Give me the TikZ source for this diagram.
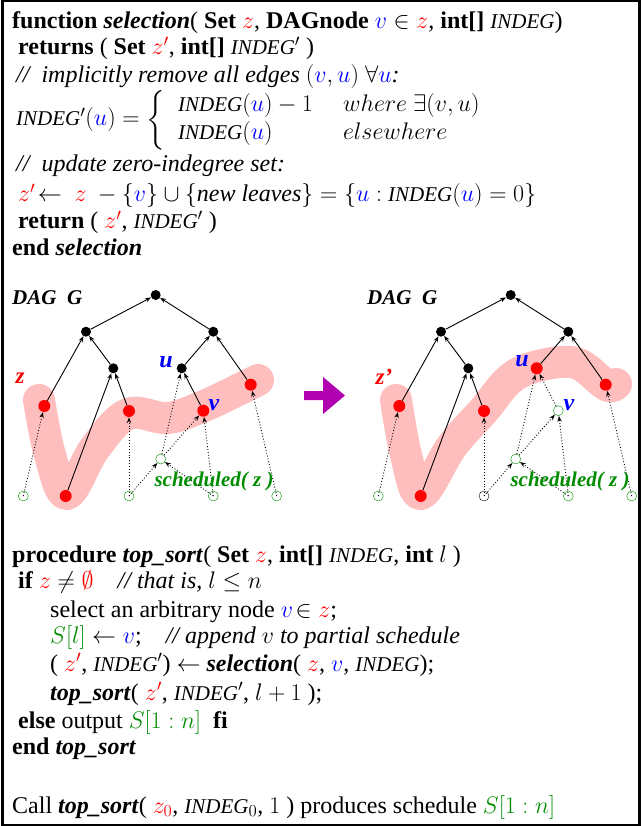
\RequirePackage{fix-cm}
\documentclass[tikz,border=0pt]{standalone}
\usepackage[no-math]{fontspec}
\setmainfont{Liberation Serif}
\usepackage{amsmath}
\usepackage{xcolor}
\usetikzlibrary{arrows.meta}
\definecolor{zred}{RGB}{255,0,0}
\definecolor{vblue}{RGB}{0,0,255}
\definecolor{sgreen}{RGB}{0,140,0}
\definecolor{bandpink}{RGB}{255,190,190}
\definecolor{movepurple}{RGB}{176,0,176}
\newcommand{\rz}[1]{\textcolor{zred}{#1}}
\newcommand{\bv}[1]{\textcolor{vblue}{#1}}
\newcommand{\gs}[1]{\textcolor{sgreen}{#1}}
\newcommand{\Indeg}{\mbox{\fontsize{21}{24}\selectfont\itshape INDEG}}
\newcommand{\kw}[1]{\textbf{#1}}
\newcommand{\fn}[1]{\textbf{\textit{#1}}}
\tikzset{
  codeline/.style = {anchor=base west, inner sep=0pt, font=\fontsize{24}{28}\selectfont},
  daglabel/.style = {inner sep=0pt, font=\fontsize{21}{24}\selectfont\bfseries\itshape},
  dagnode/.style  = {circle, fill=black, inner sep=0pt, minimum size=10pt},
  znode/.style    = {circle, fill=zred, inner sep=0pt, minimum size=12pt},
  leafnode/.style = {circle, draw=sgreen, fill=white, inner sep=0pt, minimum size=10pt},
  doneleaf/.style = {circle, draw=black, fill=white, inner sep=0pt, minimum size=10pt},
  dagarrow/.style = {-{Stealth[open, length=6pt, width=4.5pt]}, line width=0.9pt},
  dotarrow/.style = {dagarrow, dotted},
  zband/.style    = {bandpink, line width=32pt, line cap=round, line join=round},
}
\begin{document}
\begin{tikzpicture}[x=1pt, y=-1pt]
  \useasboundingbox (0,0) rectangle (641,826);
  \draw[line width=2.4pt] (2.5,1.2) rectangle (639.5,824.8);

  %% function selection
  \node[codeline] (sel1) at (12,29) {\kw{function} \fn{selection}( \kw{Set} $\rz{z}$, \kw{DAGnode} $\bv{v}\in\rz{z}$, \kw{int[]} \Indeg)};
  \node[codeline] (sel2) at (18,55) {\kw{returns} ( \kw{Set} $\rz{z'}$, \kw{int[]} \Indeg$'$ )};
  \node[codeline] (sel3) at (16,83) {\textit{//\ \ implicitly remove all edges} $(\bv{v},\bv{u})\ \forall\bv{u}$\textit{:}};
  \node[codeline] (sel4) at (16,126) {\Indeg$'(\bv{u}) = \left\{\begin{array}{@{\hspace{13pt}}l@{}l}
      \makebox[165pt][l]{$\Indeg(\bv{u})-1$} & where\ \exists(v,u)\\
      \makebox[165pt][l]{$\Indeg(\bv{u})$} & elsewhere
    \end{array}\right.$};
  \node[codeline] (sel5) at (16,172) {\textit{//\ \ update zero-indegree set:}};
  \node[codeline] (sel6) at (18,202) {$\rz{z'}\!\leftarrow\ \rz{z}\ -\{\bv{v}\}\cup\{$\textit{new leaves}$\}=\{\bv{u}:\ $\Indeg$(\bv{u})=0\}$};
  \node[codeline] (sel7) at (18,229) {\kw{return} ( $\rz{z'}$, \Indeg$'$ )};
  \node[codeline] (sel8) at (12,255) {\kw{end} \fn{selection}};

  %% zero-indegree sets
  \draw[zband] plot[smooth, tension=0.6] coordinates {(39,400) (50,455) (67,494) (95,448) (128,414) (168,418) (204,406) (240,389) (258,380)};
  \draw[zband] plot[smooth, tension=0.6] coordinates {(396,400) (406,455) (421,494) (452,446) (484,410) (510,379) (538,366) (576,363) (606,385) (616,384)};

  %% DAG before selection
  \node[daglabel, anchor=base west] (dagL) at (12,304) {DAG\ \ G};
  \node[dagnode]  (Lroot) at (155.7,295)   {};
  \node[dagnode]  (La1)   at (86,331.7)    {};
  \node[dagnode]  (Lb1)   at (213.3,331.7) {};
  \node[dagnode]  (La2)   at (113.3,368.3) {};
  \node[dagnode]  (Lu)    at (181.7,368.3) {};
  \node[znode]    (Lza)   at (44.3,406)    {};
  \node[znode]    (Lzb)   at (129,411)     {};
  \node[znode]    (Lv)    at (203.3,410.7) {};
  \node[znode]    (Lzc)   at (250.7,384.7) {};
  \node[znode]    (Lzd)   at (65.7,496)    {};
  \node[leafnode] (Lga)   at (23.3,496)    {};
  \node[leafnode] (Lgb)   at (129,496)     {};
  \node[leafnode] (Lgc)   at (213.3,496)   {};
  \node[leafnode] (Lgd)   at (276.7,496)   {};
  \node[leafnode] (Lgm)   at (160.7,459)   {};

  \draw[dagarrow] (La1) -- (Lroot);
  \draw[dagarrow] (Lb1) -- (Lroot);
  \draw[dagarrow] (Lza) -- (La1);
  \draw[dagarrow] (La2) -- (La1);
  \draw[dagarrow] (Lzd) -- (La2);
  \draw[dagarrow] (Lzb) -- (La2);
  \draw[dagarrow] (Lu)  -- (Lb1);
  \draw[dagarrow] (Lzc) -- (Lb1);
  \draw[dagarrow] (Lv)  -- (Lu);
  \draw[dotarrow] (Lga.center) -- (Lza);
  \draw[dotarrow] (Lgb.center) -- (Lzb);
  \draw[dotarrow] (Lgb.center) -- (Lgm);
  \draw[dotarrow] (Lgm) -- (Lu);
  \draw[dotarrow] (Lgm) -- (Lv);
  \draw[dotarrow] (Lgc.center) -- (Lv);
  \draw[dotarrow] (Lgc.center) -- (Lgm);
  \draw[dotarrow] (Lgd.center) -- (Lzc);

  \node[daglabel, text=zred, font=\fontsize{23}{24}\selectfont\bfseries\itshape] (zL) at (20,378) {z};
  \node[daglabel, text=vblue, font=\fontsize{24}{24}\selectfont\bfseries\itshape] (uL) at (166,362) {u};
  \node[daglabel, text=vblue, font=\fontsize{24}{24}\selectfont\bfseries\itshape] (vL) at (214,405) {v};
  \node[daglabel, text=sgreen] (schedL) at (214,481) {scheduled( z )};

  %% selection step
  \fill[movepurple] (304,391) -- (323,391) -- (323,377) -- (345,395.5) -- (323,414) -- (323,400) -- (304,400) -- cycle;

  %% DAG after selection
  \node[daglabel, anchor=base west] (dagR) at (367,304) {DAG\ \ G};
  \node[dagnode]  (Rroot) at (510.7,295)   {};
  \node[dagnode]  (Ra1)   at (441,331.7)   {};
  \node[dagnode]  (Rb1)   at (568.3,331.7) {};
  \node[dagnode]  (Ra2)   at (468.3,368.3) {};
  \node[znode]    (Ru)    at (536.7,368.3) {};
  \node[znode]    (Rza)   at (399.3,406)   {};
  \node[znode]    (Rzb)   at (484,411)     {};
  \node[leafnode] (Rv)    at (558.3,410.7) {};
  \node[znode]    (Rzc)   at (605.7,384.7) {};
  \node[znode]    (Rzd)   at (420.7,496)   {};
  \node[leafnode] (Rga)   at (378.3,496)   {};
  \node[doneleaf] (Rgb)   at (484,496)     {};
  \node[leafnode] (Rgc)   at (568.3,496)   {};
  \node[leafnode] (Rgd)   at (631.7,496)   {};
  \node[leafnode] (Rgm)   at (515.7,459)   {};

  \draw[dagarrow] (Ra1) -- (Rroot);
  \draw[dagarrow] (Rb1) -- (Rroot);
  \draw[dagarrow] (Rza) -- (Ra1);
  \draw[dagarrow] (Ra2) -- (Ra1);
  \draw[dagarrow] (Rzd) -- (Ra2);
  \draw[dagarrow] (Rzb) -- (Ra2);
  \draw[dagarrow] (Ru)  -- (Rb1);
  \draw[dagarrow] (Rzc) -- (Rb1);
  \draw[dotarrow] (Rv)  -- (Ru);
  \draw[dotarrow] (Rga.center) -- (Rza);
  \draw[dotarrow] (Rgb.center) -- (Rzb);
  \draw[dotarrow] (Rgb.center) -- (Rgm);
  \draw[dotarrow] (Rgm) -- (Ru);
  \draw[dotarrow] (Rgm) -- (Rv);
  \draw[dotarrow] (Rgc.center) -- (Rv);
  \draw[dotarrow] (Rgc.center) -- (Rgm);
  \draw[dotarrow] (Rgd.center) -- (Rzc);

  \node[daglabel, text=zred, font=\fontsize{23}{24}\selectfont\bfseries\itshape] (zR) at (384,377) {z'};
  \node[daglabel, text=vblue, font=\fontsize{24}{24}\selectfont\bfseries\itshape] (uR) at (522,361) {u};
  \node[daglabel, text=vblue, font=\fontsize{24}{24}\selectfont\bfseries\itshape] (vR) at (569,405) {v};
  \node[daglabel, text=sgreen] (schedR) at (570,481) {scheduled( z )};

  %% procedure top_sort
  \node[codeline] (top1) at (12,562) {\kw{procedure} \fn{top\_sort}( \kw{Set} $\rz{z}$, \kw{int[]} \Indeg, \kw{int} $l$ )};
  \node[codeline] (top2) at (18,588) {\kw{if} $\rz{z}\neq\rz{\emptyset}$\quad \textit{// that is,} $l\le n$};
  \node[codeline] (top3) at (50,617) {select an arbitrary node $\bv{v}\!\in\rz{z}$;};
  \node[codeline] (top4) at (50,643) {$\gs{S[l]}\leftarrow\bv{v}$;\quad \textit{// append} $v$ \textit{to partial schedule}};
  \node[codeline] (top5) at (50,671) {( $\rz{z'}$, \Indeg$'$) $\leftarrow$ \fn{selection}( $\rz{z}$, $\bv{v}$, \Indeg);};
  \node[codeline] (top6) at (50,700) {\fn{top\_sort}( $\rz{z'}$, \Indeg$'$, $l+1$ );};
  \node[codeline] (top7) at (18,728) {\kw{else} output $\gs{S[1:n]}$\ \ \kw{fi}};
  \node[codeline] (top8) at (12,754) {\kw{end} \fn{top\_sort}};

  \node[codeline] (call) at (12,813) {Call \fn{top\_sort}( $\rz{z_0}$, \Indeg$_0$, $1$ ) produces schedule $\gs{S[1:n]}$};
\end{tikzpicture}
\end{document}
